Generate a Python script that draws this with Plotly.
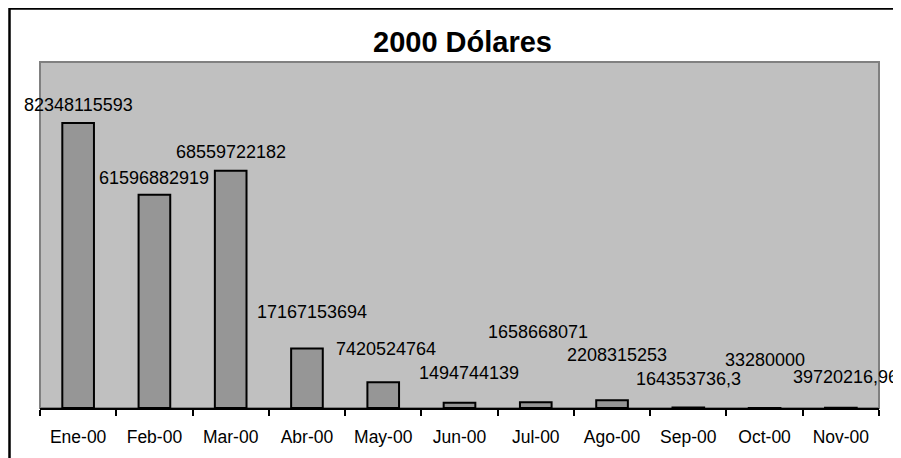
import plotly.graph_objects as go

categories = ["Ene-00", "Feb-00", "Mar-00", "Abr-00", "May-00", "Jun-00",
              "Jul-00", "Ago-00", "Sep-00", "Oct-00", "Nov-00"]
values = [82348115593, 61596882919, 68559722182, 17167153694, 7420524764,
          1494744139, 1658668071, 2208315253, 164353736.3, 33280000, 39720216.96]
value_labels = ["82348115593", "61596882919", "68559722182", "17167153694",
                "7420524764", "1494744139", "1658668071", "2208315253",
                "164353736,3", "33280000", "39720216,96"]
title_text = "2000 Dólares"

# label offsets (pixels) relative to bar top
label_dx = [0, 0, 0, 5, 3, 9, 2, 5, 0, 0, 5]
label_dy = [18, 17, 19, 37, 33, 30, 70, 45, 28, 48, 31]

FONT = "Liberation Sans, Arial, sans-serif"

fig = go.Figure()
fig.add_trace(go.Bar(
    x=categories, y=values,
    marker=dict(color="#969696", line=dict(color="black", width=2)),
    hoverinfo="skip",
))

for c, v, t, dx, dy in zip(categories, values, value_labels, label_dx, label_dy):
    fig.add_annotation(x=c, y=v, text=t, showarrow=False, xanchor="center",
                       yanchor="middle", xshift=dx, yshift=dy,
                       font=dict(family=FONT, size=18, color="black"))

# page body adds an 8px offset; coordinates below are figure coordinates
W, H = 901, 458
ml, mr, mt, mb = 32, 30, 54, 58
pw, ph = W - ml - mr, H - mt - mb

def px(x):
    return (x - ml) / pw

def py(y):
    return (H - mb - y) / ph

# plot area gray border
fig.add_shape(type="rect", xref="paper", yref="paper", x0=0, x1=1, y0=0, y1=1,
              line=dict(color="#808080", width=2), fillcolor="rgba(0,0,0,0)",
              layer="below")
# outer chart border
fig.add_shape(type="rect", xref="paper", yref="paper",
              x0=px(1.5), x1=px(910), y0=py(470), y1=py(0.5),
              line=dict(color="black", width=2.5), fillcolor="rgba(0,0,0,0)")

fig.update_layout(
    width=W, height=H,
    margin=dict(l=ml, r=mr, t=mt, b=mb),
    paper_bgcolor="white", plot_bgcolor="#C0C0C0",
    bargap=0.585,
    showlegend=False,
    title=dict(text="<b>" + title_text + "</b>", xref="container",
               x=454.5 / W, xanchor="center",
               y=1 - 34 / H, yanchor="middle",
               font=dict(family=FONT, size=29, color="black")),
    xaxis=dict(type="category", range=[-0.5, len(categories) - 0.5],
               autorange=False,
               showline=True, linecolor="black", linewidth=2,
               ticks="outside", tickson="boundaries", ticklen=6, tickwidth=2,
               tickcolor="black", showgrid=False, zeroline=False,
               ticklabelstandoff=12,
               tickfont=dict(family=FONT, size=17.5, color="black")),
    yaxis=dict(range=[0, 1e11], autorange=False, visible=False, showgrid=False),
)

fig.write_html("out.html")
